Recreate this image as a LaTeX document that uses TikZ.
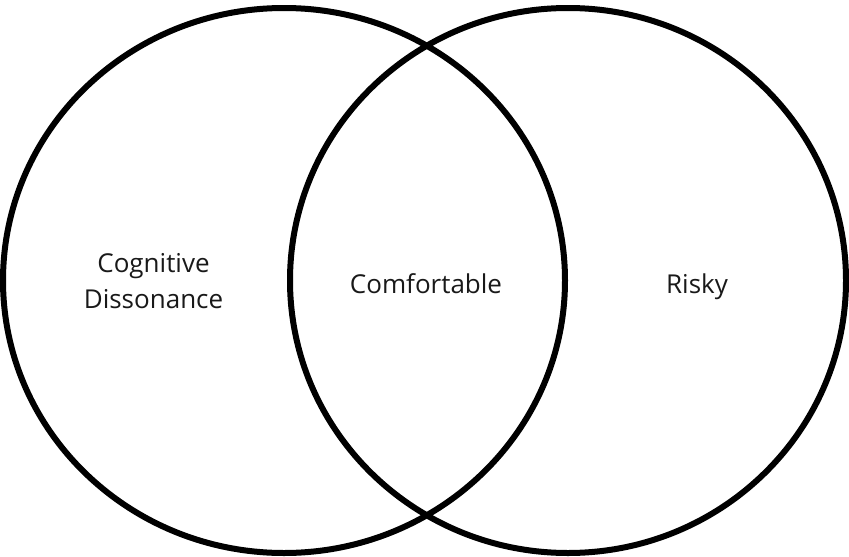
\documentclass[tikz,border=0pt]{standalone}
\usepackage{fontspec}
\setmainfont{Open Sans}
\begin{document}
\begin{tikzpicture}[x=1pt,y=-1pt,
  ring/.style={draw=black,line width=6pt},
  lbl/.style={font=\fontsize{26}{36}\selectfont,text=black!90,inner sep=0pt,align=center}]
\useasboundingbox (0,0) rectangle (849,557);
\draw[ring] (284,280.5) ellipse [x radius=281pt, y radius=272.5pt];
\draw[ring] (568,280.5) ellipse [x radius=278pt, y radius=272.5pt];
\node[lbl,anchor=base] (cog) at (153.5,272) {Cognitive};
\node[lbl,anchor=base] (dis) at (153.5,308) {Dissonance};
\node[lbl,anchor=base] (com) at (426,293) {Comfortable};
\node[lbl,anchor=base] (risk) at (697,293) {Risky};
\end{tikzpicture}
\end{document}
